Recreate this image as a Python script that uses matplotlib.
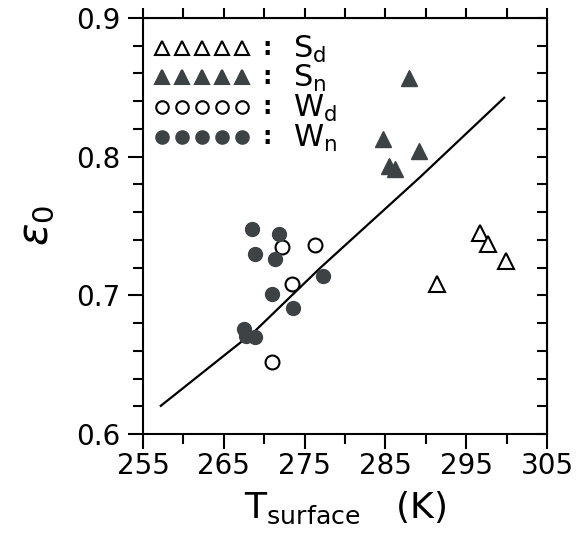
import matplotlib
matplotlib.use("Agg")
import matplotlib.pyplot as plt
from matplotlib.ticker import MultipleLocator

# Data
sd_T = [296.7, 297.7, 299.9, 291.35]
sd_e = [0.745, 0.737, 0.725, 0.708]
sn_T = [287.96, 284.7, 289.2, 285.4, 286.2]
sn_e = [0.857, 0.813, 0.804, 0.793, 0.791]
wd_T = [272.2, 276.3, 273.4, 271.0]
wd_e = [0.735, 0.736, 0.708, 0.652]
wn_T = [268.45, 271.8, 268.8, 271.3, 277.3, 271.0, 273.6, 267.5, 267.8, 268.9]
wn_e = [0.748, 0.744, 0.730, 0.726, 0.714, 0.701, 0.691, 0.676, 0.6705, 0.670]
fit_T = [257.2, 268.9, 276.9, 289.3, 299.7]
fit_e = [0.6203, 0.6745, 0.7196, 0.7853, 0.8425]

legend_labels = [r"$\mathsf{S_d}$", r"$\mathsf{S_n}$", r"$\mathsf{W_d}$", r"$\mathsf{W_n}$"]

dark = "#3d4245"
plt.rcParams['font.family'] = ['DejaVu Sans']
plt.rcParams['mathtext.fontset'] = 'dejavusans'

fig = plt.figure(figsize=(5.76, 5.42), dpi=100)
ax = fig.add_axes([0.2483, 0.1993, 0.7014, 0.7675])

ms_c = 10
ms_t = 12
ax.plot(fit_T, fit_e, color='black', lw=1.6, zorder=2)
ax.plot(sd_T, sd_e, ls='none', marker='^', ms=ms_t, mfc='white', mec='black', mew=1.5, zorder=3)
ax.plot(sn_T, sn_e, ls='none', marker='^', ms=ms_t, mfc=dark, mec=dark, mew=1.0, zorder=3)
ax.plot(wd_T, wd_e, ls='none', marker='o', ms=ms_c, mfc='white', mec='black', mew=1.5, zorder=3)
ax.plot(wn_T, wn_e, ls='none', marker='o', ms=ms_c, mfc=dark, mec=dark, mew=1.0, zorder=3)

ax.set_xlim(255, 305)
ax.set_ylim(0.6, 0.9)
ax.xaxis.set_minor_locator(MultipleLocator(5))
ax.yaxis.set_minor_locator(MultipleLocator(0.02))
ax.set_xticks([255, 265, 275, 285, 295, 305])
ax.set_yticks([0.6, 0.7, 0.8, 0.9])
ax.set_yticklabels(['0.6', '0.7', '0.8', '0.9'])
ax.tick_params(which='major', direction='out', length=11, width=1.5, labelsize=20)
ax.tick_params(axis='x', which='major', pad=2)
ax.tick_params(axis='y', which='major', pad=5)
ax.tick_params(which='minor', direction='out', length=7, width=1.5)
for s in ax.spines.values():
    s.set_linewidth(1.5)

top = ax.secondary_xaxis('top')
top.set_xticks([255 + 5 * i for i in range(11)])
top.tick_params(direction='out', length=7, width=1.5, labeltop=False)
top.set_xticklabels([])
right = ax.secondary_yaxis('right')
right.set_yticks([0.6 + 0.02 * i for i in range(16)])
right.tick_params(direction='in', length=7, width=1.5, labelright=False)
right.set_yticklabels([])

ax.set_xlabel(r"$\mathsf{T_{surface}}$   (K)", fontsize=26, labelpad=7)
ax.set_ylabel(r"$\varepsilon_0$", fontsize=30, labelpad=14)

# Legend drawn in axes coordinates
markers = [('^', 'white', 'black', ms_t - 2), ('^', dark, dark, ms_t - 2),
           ('o', 'white', 'black', ms_c - 1), ('o', dark, dark, ms_c - 1)]
row_y = [0.929, 0.859, 0.787, 0.714]
col_x = [0.047, 0.097, 0.146, 0.196, 0.245]
for (m, fc, ec, ms), y, lab in zip(markers, row_y, legend_labels):
    ax.plot(col_x, [y] * 5, ls='none', marker=m, ms=ms, mfc=fc, mec=ec, mew=1.5,
            transform=ax.transAxes, clip_on=False)
    ax.text(0.307, y, ":", transform=ax.transAxes, fontsize=17, fontweight='bold',
            ha='center', va='center')
    ax.text(0.37, y - 0.004, lab, transform=ax.transAxes, fontsize=22, ha='left', va='center')

fig.savefig("out.png", dpi=100)
